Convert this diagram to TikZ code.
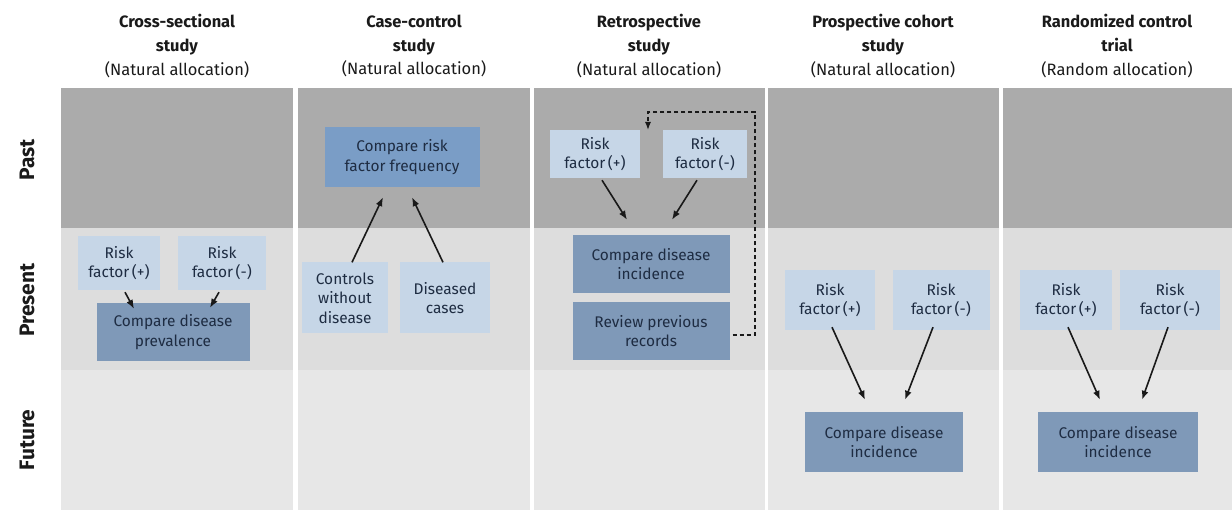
\documentclass[tikz,border=0pt]{standalone}
\usepackage{fontspec}
\setmainfont{Fira Sans}
\usetikzlibrary{arrows.meta,calc}
\definecolor{pastc}{HTML}{ABABAB}
\definecolor{presc}{HTML}{DDDDDD}
\definecolor{futc}{HTML}{E7E7E7}
\definecolor{lightb}{HTML}{C6D6E7}
\definecolor{darkb}{HTML}{7F99B8}
\definecolor{darkb2}{HTML}{7A9DC6}
\definecolor{boxtxt}{HTML}{1E2C42}
\definecolor{hdtxt}{HTML}{1A1A1A}
\tikzset{
  lbox/.style={fill=lightb, inner sep=0pt, align=center, text=boxtxt,
    font=\fontsize{15.5}{19.5}\selectfont},
  dbox/.style={fill=darkb, inner sep=0pt, align=center, text=boxtxt,
    font=\fontsize{15.5}{19.5}\selectfont},
  hdr/.style={align=center, text=hdtxt, font=\fontsize{16.5}{24}\selectfont},
  rowlab/.style={rotate=90, text=hdtxt, font=\fontsize{21}{24}\selectfont\bfseries},
  arr/.style={line width=1.6bp, draw=black!90, -{Latex[length=9bp,width=7bp]}},
  darr/.style={line width=1.3bp, draw=black!90, dash pattern=on 4bp off 3bp, -{Latex[length=8bp,width=6bp]}}
}
\begin{document}
\begin{tikzpicture}[x=1bp,y=-1bp]
\useasboundingbox (0,0) rectangle (1232,511);
\fill[white] (0,0) rectangle (1232,511);
% panels
\foreach \a/\b in {61/293, 298/530, 534/765, 768/999, 1003/1232}{
  \fill[pastc] (\a,88) rectangle (\b,228);
  \fill[presc] (\a,228) rectangle (\b,370);
  \fill[futc] (\a,370) rectangle (\b,510);
}
% headers
\node[hdr] (h1) at (177,46) {\textbf{Cross-sectional}\\\textbf{study}\\(Natural allocation)};
\node[hdr] (h2) at (414,46) {\textbf{Case-control}\\\textbf{study}\\(Natural allocation)};
\node[hdr] (h3) at (649,46) {\textbf{Retrospective}\\\textbf{study}\\(Natural allocation)};
\node[hdr] (h4) at (883,46) {\textbf{Prospective cohort}\\\textbf{study}\\(Natural allocation)};
\node[hdr] (h5) at (1117,46) {\textbf{Randomized control}\\\textbf{trial}\\(Random allocation)};
% row labels
\node[rowlab] (rp) at (27,160) {Past};
\node[rowlab] (rn) at (27,300) {Present};
\node[rowlab] (rf) at (27,440) {Future};
% panel 1
\node[lbox, minimum width=82bp, minimum height=54bp] (rf1p) at (119,263) {Risk\\factor\,(+)};
\node[lbox, minimum width=88bp, minimum height=54bp] (rf1m) at (222,263) {Risk\\factor\,(-)};
\node[dbox, minimum width=153bp, minimum height=58bp] (cmp1) at (173,332) {Compare disease\\prevalence};
\draw[arr] ($(rf1p.south)+(6,2)$) -- ($(cmp1.north)+(-39,6)$);
\draw[arr] ($(rf1m.south)+(-3,2)$) -- ($(cmp1.north)+(37,5)$);
% panel 2
\node[dbox, fill=darkb2, minimum width=155bp, minimum height=60bp] (cmpf) at (402,157) {Compare risk\\factor frequency};
\node[lbox, minimum width=86bp, minimum height=71bp] (ctrl) at (345,298) {Controls\\without\\disease};
\node[lbox, minimum width=90bp, minimum height=71bp] (dis) at (445,298) {Diseased\\cases};
\draw[arr] ($(ctrl.north)+(7,0)$) -- ($(cmpf.south)+(-19,10)$);
\draw[arr] ($(dis.north)+(-2,0)$) -- ($(cmpf.south)+(10,10)$);
% panel 3
\node[lbox, minimum width=90bp, minimum height=48bp] (rf3p) at (595,154) {Risk\\factor\,(+)};
\node[lbox, minimum width=84bp, minimum height=48bp] (rf3m) at (705,154) {Risk\\factor\,(-)};
\node[dbox, minimum width=157bp, minimum height=58bp] (cmp3) at (651,264) {Compare disease\\incidence};
\node[dbox, minimum width=157bp, minimum height=58bp] (rev3) at (651,331) {Review previous\\records};
\draw[arr] ($(rf3p.south)+(7,2)$) -- ($(cmp3.north)+(-24,-15)$);
\draw[arr] ($(rf3m.south)+(-8,2)$) -- ($(cmp3.north)+(21,-15)$);
\coordinate (dcorner) at (755,112);
\coordinate (dtip) at (648,130);
\draw[darr] ($(rev3.east)+(3,4)$) -| (dcorner) -| (dtip);
% panel 4
\node[lbox, minimum width=90bp, minimum height=60bp] (rf4p) at (830,300) {Risk\\factor\,(+)};
\node[lbox, minimum width=97bp, minimum height=60bp] (rf4m) at (941,300) {Risk\\factor\,(-)};
\node[dbox, minimum width=158bp, minimum height=60bp] (cmp4) at (884,442) {Compare disease\\incidence};
\draw[arr] ($(rf4p.south)+(2,-3)$) -- ($(cmp4.north)+(-19,-12)$);
\draw[arr] ($(rf4m.south)+(-8,-3)$) -- ($(cmp4.north)+(21,-12)$);
% panel 5
\node[lbox, minimum width=92bp, minimum height=60bp] (rf5p) at (1066,300) {Risk\\factor\,(+)};
\node[lbox, minimum width=100bp, minimum height=60bp] (rf5m) at (1170,300) {Risk\\factor\,(-)};
\node[dbox, minimum width=160bp, minimum height=60bp] (cmp5) at (1118,442) {Compare disease\\incidence};
\draw[arr] ($(rf5p.south)+(2,-3)$) -- ($(cmp5.north)+(-18,-12)$);
\draw[arr] ($(rf5m.south)+(-2,-3)$) -- ($(cmp5.north)+(24,-12)$);
\end{tikzpicture}
\end{document}
